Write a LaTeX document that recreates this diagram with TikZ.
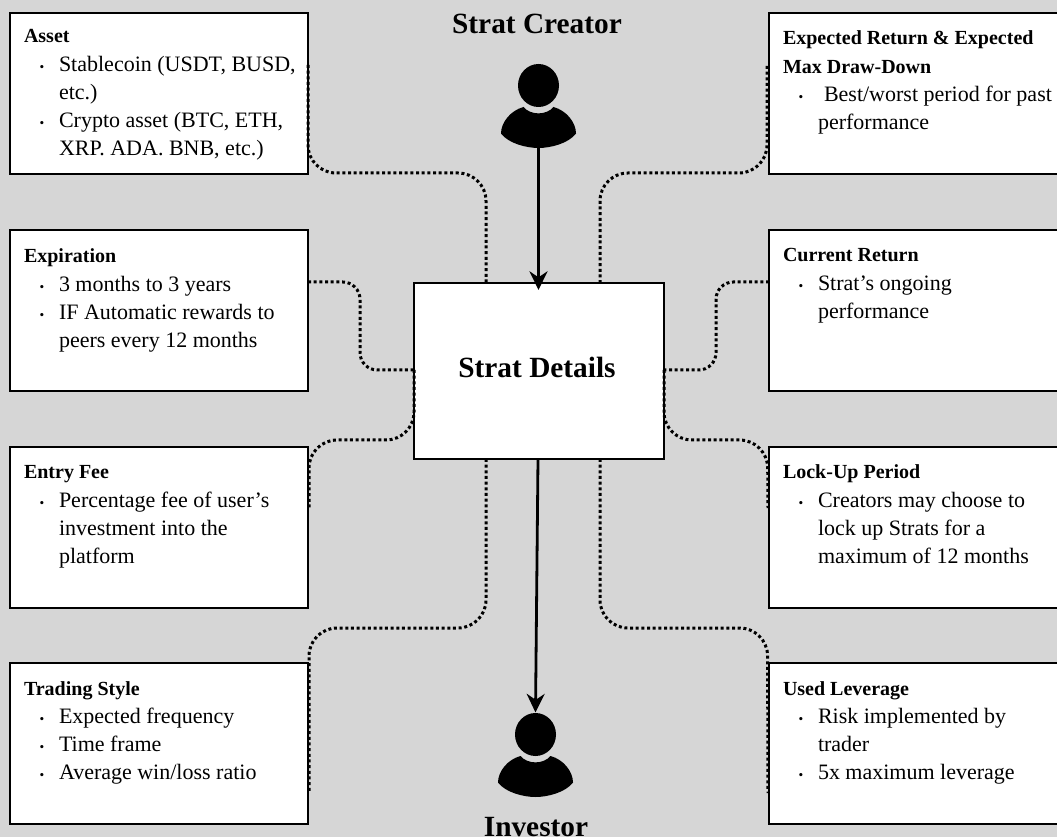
\documentclass[tikz,border=0pt]{standalone}
\usepackage{fontspec}
\setmainfont{Liberation Serif}
\usetikzlibrary{arrows.meta,calc}
\definecolor{bggray}{HTML}{D6D6D6}
\newcommand{\itm}{\hspace*{13.5pt}\makebox[0pt][c]{\fontsize{10}{10}\selectfont\textbullet}\hspace*{12.75pt}}
\newcommand{\cnt}{\hspace*{26.25pt}}
\newcommand{\hd}[1]{\rule{0pt}{15pt}{\fontsize{15}{21.15}\selectfont\bfseries #1}}
\tikzset{
  x=0.75pt,y=-0.75pt,
  infobox/.style={draw=black,fill=white,line width=1.9pt,anchor=north west,inner sep=0pt,outer sep=0pt,minimum height=120.75pt},
  leftbox/.style={infobox,minimum width=223.5pt},
  rightbox/.style={infobox,minimum width=221.25pt},
  centerbox/.style={infobox,minimum width=187.5pt,minimum height=132pt},
  infotext/.style={anchor=north west,inner sep=0pt,outer sep=0pt,align=left,font=\fontsize{16.5}{21.15}\selectfont},
  bigtext/.style={anchor=base,inner sep=0pt,font=\fontsize{22}{26}\selectfont\bfseries},
  dotline/.style={draw=black,line width=2.25pt,dash pattern=on 2.25pt off 2pt},
  flow/.style={draw=black,line width=2.1pt,-{Stealth[length=14pt,width=13.5pt,inset=4.5pt]}},
  iconbox/.style={inner sep=0pt,outer sep=0pt,minimum width=56pt,minimum height=63pt},
  person/.pic={
    \fill[black] (0,0) ellipse[x radius=20.5,y radius=21.5];
    \fill[black] (-15,21.5) .. controls (-8,30) and (8,30) .. (15,21.5)
      .. controls (28,25) and (37.5,37) .. (37.5,48)
      .. controls (30,58) and (12,62.5) .. (0,62.5)
      .. controls (-12,62.5) and (-30,58) .. (-37.5,48)
      .. controls (-37.5,37) and (-28,25) .. (-15,21.5) -- cycle;
  }
}
\begin{document}
\begin{tikzpicture}
\useasboundingbox (0,0) rectangle (1057,837);
\clip (0,0) rectangle (1057,837);
\fill[bggray] (0,0) rectangle (1057,837);

% boxes
\node[leftbox] (asset) at (10,13) {};
\node[leftbox] (expiration) at (10,230) {};
\node[leftbox] (entry) at (10,447) {};
\node[leftbox] (trading) at (10,663) {};
\node[rightbox] (expected) at (769,13) {};
\node[rightbox] (current) at (769,230) {};
\node[rightbox] (lockup) at (769,447) {};
\node[rightbox] (leverage) at (769,663) {};
\node[centerbox] (details) at (414,283) {};

% box texts
\node[infotext] (assetT) at (24,23) {\hd{Asset}\\\itm Stablecoin (USDT, BUSD,\\\cnt etc.)\\\itm Crypto asset (BTC, ETH,\\\cnt XRP. ADA. BNB, etc.)};
\node[infotext] (expirationT) at (24,243) {\hd{Expiration}\\\itm 3 months to 3 years\\\itm IF Automatic rewards to\\\cnt peers every 12 months};
\node[infotext] (entryT) at (24,459) {\hd{Entry Fee}\\\itm Percentage fee of user’s\\\cnt investment into the\\\cnt platform};
\node[infotext] (tradingT) at (24,675) {\hd{Trading Style}\\\itm Expected frequency\\\itm Time frame\\\itm Average win/loss ratio};
\node[infotext] (expectedT) at (783,25) {\hd{Expected Return \& Expected}\\\hd{Max Draw-Down}\\\itm\hspace*{4.5pt}Best/worst period for past\\\cnt performance};
\node[infotext] (currentT) at (783,242) {\hd{Current Return}\\\itm Strat’s ongoing\\\cnt performance};
\node[infotext] (lockupT) at (783,459) {\hd{Lock-Up Period}\\\itm Creators may choose to\\\cnt lock up Strats for a\\\cnt maximum of 12 months};
\node[infotext] (leverageT) at (783,675) {\hd{Used Leverage}\\\itm Risk implemented by\\\cnt trader\\\itm 5x maximum leverage};

% big labels
\node[bigtext] (creatorL) at (537,33.5) {Strat Creator};
\node[bigtext] (detailsL) at (537,378) {Strat Details};
\node[bigtext] (investorL) at (536,836) {Investor};

% persons
\node[iconbox] (creator) at (538.5,106) {};
\pic at (538.5,85.5) {person};
\node[iconbox] (investor) at (535.5,755) {};
\pic at (535.5,734.5) {person};

% dotted connectors
\draw[dotline,rounded corners=21pt] ($(asset.north east)+(0,52)$) |- (486,173) -- ($(details.north west)+(72,0)$);
\draw[dotline,rounded corners=21pt] ($(expected.north west)+(-2,53)$) |- (600,173) -- ($(details.north west)+(186,0)$);
\draw[dotline,rounded corners=13pt] ($(expiration.north east)+(0,52)$) -| (360,370) -- ($(details.north west)+(0,87)$);
\draw[dotline,rounded corners=13pt] ($(current.north west)+(0,52)$) -| (716,370) -- ($(details.north east)+(0,87)$);
\draw[dotline,rounded corners=21pt] ($(details.north west)+(0,87)$) |- (309,440) -- ($(entry.north east)+(1,61)$);
\draw[dotline,rounded corners=21pt] ($(details.north east)+(0,87)$) |- (767.5,440) -- ($(lockup.north west)+(-1,61)$);
\draw[dotline,rounded corners=21pt] ($(details.south west)+(72,0)$) |- (309,628) -- ($(trading.north east)+(1,130)$);
\draw[dotline,rounded corners=21pt] ($(details.south west)+(186,0)$) |- (767.5,628) -- ($(leverage.north west)+(-1,130)$);

% arrows
\draw[flow] (creator.south) -- ($(details.north)+(-0.5,7)$);
\draw[flow] ($(details.south)+(-1,0)$) -- ($(investor.north)+(0,-0.5)$);
\end{tikzpicture}
\end{document}
